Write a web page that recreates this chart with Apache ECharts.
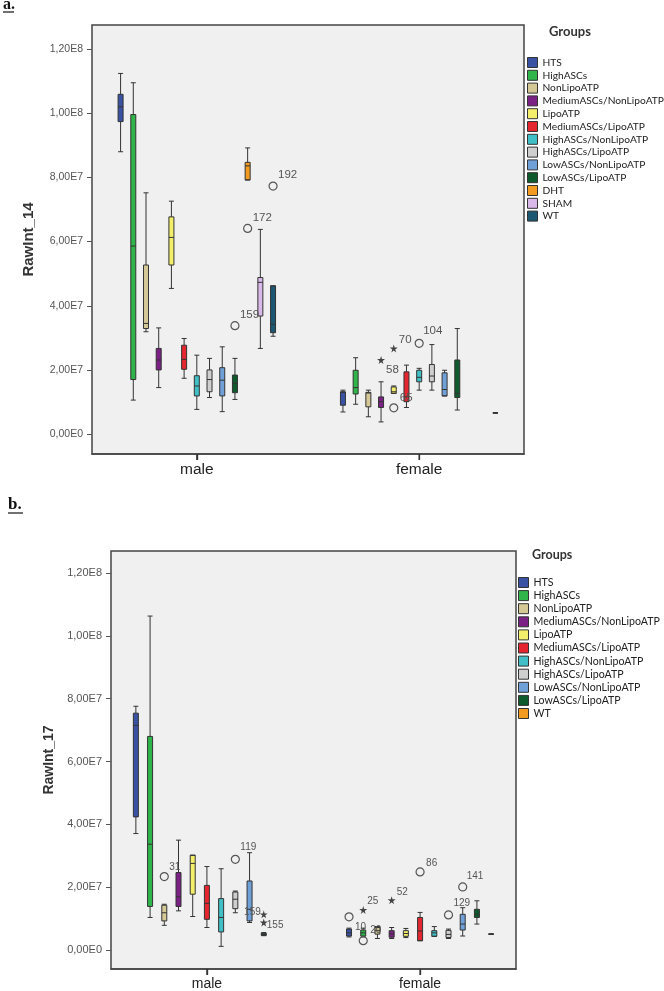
<!DOCTYPE html>
<html><head><meta charset="utf-8">
<script src="https://cdn.jsdelivr.net/npm/echarts@6/dist/echarts.min.js"></script>
<style>html,body{margin:0;padding:0;background:#fff}#c{width:664px;height:991px}</style>
</head><body><div id="c"></div>
<script>
// ===== DATA (values in units of 1E7) =====
const genders = ['male', 'female'];
const groupsA = ['HTS','HighASCs','NonLipoATP','MediumASCs/NonLipoATP','LipoATP','MediumASCs/LipoATP','HighASCs/NonLipoATP','HighASCs/LipoATP','LowASCs/NonLipoATP','LowASCs/LipoATP','DHT','SHAM','WT'];
const groupsB = ['HTS','HighASCs','NonLipoATP','MediumASCs/NonLipoATP','LipoATP','MediumASCs/LipoATP','HighASCs/NonLipoATP','HighASCs/LipoATP','LowASCs/NonLipoATP','LowASCs/LipoATP','WT'];
const yTickValues = [0, 2, 4, 6, 8, 10, 12];

// [min, Q1, median, Q3, max]
const boxesA_male = [
  [8.80, 9.74, 10.20, 10.59, 11.24],
  [1.06, 1.70, 5.86, 9.96, 10.95],
  [3.19, 3.29, 3.45, 5.27, 7.52],
  [1.45, 2.00, 2.31, 2.67, 3.31],
  [4.54, 5.27, 6.13, 6.77, 7.26],
  [1.74, 2.02, 2.33, 2.77, 2.98],
  [0.77, 1.19, 1.50, 1.82, 2.46],
  [1.14, 1.32, 1.70, 2.00, 2.36],
  [0.70, 1.19, 1.68, 2.07, 2.72],
  [1.08, 1.29, 1.58, 1.84, 2.36],
  [7.92, 7.92, 8.36, 8.47, 8.92],
  [2.67, 3.68, 4.73, 4.88, 6.38],
  [3.05, 3.16, 3.42, 4.62, 4.62]
];
const boxesA_female = [
  [0.69, 0.90, 1.30, 1.32, 1.37],
  [0.93, 1.25, 1.45, 1.99, 2.38],
  [0.54, 0.85, 1.28, 1.30, 1.37],
  [0.38, 0.83, 1.01, 1.16, 1.63],
  [1.27, 1.27, 1.32, 1.47, 1.50],
  [0.83, 1.01, 1.16, 1.94, 2.15],
  [1.37, 1.63, 1.77, 1.99, 2.05],
  [1.37, 1.63, 1.81, 2.17, 2.79],
  [1.19, 1.19, 1.39, 1.91, 1.99],
  [0.75, 1.14, 1.27, 2.31, 3.29],
  null,
  null,
  [0.66, 0.66, 0.66, 0.66, 0.66]
];
const boxesB_male = [
  [3.71, 4.24, 7.15, 7.54, 7.76],
  [1.04, 1.39, 3.37, 6.80, 10.63],
  [0.79, 0.93, 1.19, 1.43, 1.46],
  [1.25, 1.39, 1.70, 2.47, 3.50],
  [1.07, 1.78, 2.76, 3.02, 3.02],
  [0.72, 0.98, 1.49, 2.06, 2.66],
  [0.12, 0.58, 1.04, 1.64, 2.59],
  [1.19, 1.32, 1.62, 1.85, 1.88],
  [0.88, 0.93, 1.30, 2.20, 3.10],
  [0.46, 0.47, 0.50, 0.54, 0.56],
  null
];
const boxesB_female = [
  [0.42, 0.45, 0.55, 0.67, 0.70],
  [0.42, 0.45, 0.55, 0.64, 0.70],
  [0.37, 0.51, 0.62, 0.72, 0.75],
  [0.37, 0.41, 0.52, 0.62, 0.72],
  [0.40, 0.44, 0.53, 0.62, 0.69],
  [0.30, 0.30, 0.61, 1.04, 1.20],
  [0.44, 0.44, 0.55, 0.62, 0.75],
  [0.37, 0.40, 0.50, 0.63, 0.67],
  [0.45, 0.64, 0.83, 1.14, 1.35],
  [0.83, 1.04, 1.14, 1.30, 1.57],
  [0.51, 0.51, 0.51, 0.51, 0.51]
];
// [gender, group, value, case id, marker kind]
const outliersA = [
  ['male', 'LowASCs/LipoATP', 3.38, '159', 'circle'],
  ['male', 'DHT', 6.41, '172', 'circle'],
  ['male', 'WT', 7.73, '192', 'circle'],
  ['female', 'MediumASCs/NonLipoATP', 2.31, '58', 'star'],
  ['female', 'LipoATP', 2.67, '70', 'star'],
  ['female', 'LipoATP', 0.82, '65', 'circle'],
  ['female', 'HighASCs/NonLipoATP', 2.83, '104', 'circle']
];
const outliersB = [
  ['male', 'NonLipoATP', 2.34, '31', 'circle'],
  ['male', 'HighASCs/LipoATP', 2.89, '119', 'circle'],
  ['male', 'LowASCs/LipoATP', 1.14, '159', 'star'],
  ['male', 'LowASCs/LipoATP', 0.88, '155', 'star'],
  ['female', 'HTS', 1.06, '10', 'circle'],
  ['female', 'HighASCs', 1.28, '25', 'star'],
  ['female', 'HighASCs', 0.30, '20', 'circle'],
  ['female', 'MediumASCs/NonLipoATP', 1.59, '52', 'star'],
  ['female', 'MediumASCs/LipoATP', 2.49, '86', 'circle'],
  ['female', 'HighASCs/LipoATP', 1.12, '129', 'circle'],
  ['female', 'LowASCs/NonLipoATP', 2.01, '141', 'circle']
];

// ===== STYLE / LAYOUT =====
const colorsA = {'HTS':'#3a52a3','HighASCs':'#2fb54a','NonLipoATP':'#d3c896','MediumASCs/NonLipoATP':'#7b2085','LipoATP':'#f4ef6b','MediumASCs/LipoATP':'#e3262f','HighASCs/NonLipoATP':'#40c0c6','HighASCs/LipoATP':'#cfcfcf','LowASCs/NonLipoATP':'#70a0d8','LowASCs/LipoATP':'#0e5a2d','DHT':'#f39a20','SHAM':'#d9b8ea','WT':'#1d5873'};
const colorsB = Object.assign({}, colorsA, {'WT':'#f39a20'});
const labelPlaceA = {'159':[5,-11],'172':[5,-11],'192':[5,-11],'58':[5,10],'70':[5,-9],'65':[6,-10],'104':[4,-12]};
const labelPlaceB = {'31':[5,-9],'119':[5,-12],'159':[-3,-2,'right'],'155':[3,3],'10':[6,10],'20':[7,-10],'25':[4,-9],'52':[5,-8],'86':[6,-9],'129':[5,-12],'141':[4,-11]};
// grid = plot frame; the y extent is the value range covered by the frame
const panelA = {grid:{left:92, top:25, width:432, height:429}, yExtent:[-0.62, 12.75], slots:68, centers:[16,51], step:2, name:'RawInt_14', nameGap:56, nameSize:15, xLabelSize:15.5, outSize:11.5, yLabelSize:10.5};
const panelB = {grid:{left:111, top:551, width:405, height:419}, yExtent:[-0.60, 12.70], slots:57, centers:[13,43], step:2, name:'RawInt_17', nameGap:52, nameSize:14, xLabelSize:14, outSize:10, yLabelSize:11};
const TICK_LEN = 6;
const STAR = 'path://M50,0 L61,35 L98,35 L68,57 L79,91 L50,70 L21,91 L32,57 L2,35 L39,35 Z';

function slotOf(panel, gi, i, n) { return panel.centers[gi] + panel.step * (i - (n - 1) / 2); }
function sciLabel(v) { return (v * 1e7).toExponential(2).replace('.', ',').replace('e+', 'E'); }
function isCenter(P, i) { return i === P.centers[0] || i === P.centers[1]; }

function boxData(panel, groups, boxesByGender, colors) {
  const data = Array.from({length: panel.slots}, () => ['-','-','-','-','-']);
  genders.forEach((g, gi) => {
    groups.forEach((name, i) => {
      const b = boxesByGender[gi][i];
      if (!b) return;
      data[slotOf(panel, gi, i, groups.length)] = {value: b.slice(), itemStyle: {color: colors[name]}};
    });
  });
  return data;
}
function outlierData(panel, groups, outs, places) {
  return outs.map(o => {
    const gi = genders.indexOf(o[0]);
    const i = groups.indexOf(o[1]);
    const p = places[o[3]] || [5,-10];
    const star = o[4] === 'star';
    return {
      name: o[3],
      value: [slotOf(panel, gi, i, groups.length), o[2]],
      symbol: star ? STAR : 'circle',
      symbolSize: 8,
      itemStyle: star ? {color:'#444', borderWidth:0, opacity:1} : {color:'rgba(0,0,0,0)', borderColor:'#555', borderWidth:1.2, opacity:1},
      label: {offset: [p[0], p[1]], align: p[2] || 'left'}
    };
  });
}

const chart = echarts.init(document.getElementById('c'), null, {renderer:'canvas'});
const panels = [panelA, panelB];
const grids = [], xAxes = [], yAxes = [];
panels.forEach((P, k) => {
  grids.push(Object.assign({containLabel:false, show:true, backgroundColor:'#f0f0f0', borderColor:'#444', borderWidth:1.5}, P.grid));
  xAxes.push({
    type:'category', gridIndex:k, boundaryGap:true, position:'bottom',
    data: Array.from({length:P.slots}, (_, i) => 's' + i),
    axisLine:{show:true, onZero:false, lineStyle:{color:'#444', width:1.5}},
    axisTick:{show:true, alignWithLabel:true, length:TICK_LEN, lineStyle:{color:'#333', width:1.3},
      interval:(i) => isCenter(P, i)},
    axisLabel:{interval:(i) => isCenter(P, i),
      formatter:(v, i) => i === P.centers[0] ? genders[0] : (i === P.centers[1] ? genders[1] : ''),
      margin:8, fontSize:P.xLabelSize, color:'#222', fontFamily:'Liberation Sans'},
    splitLine:{show:false}
  });
  yAxes.push({
    type:'value', gridIndex:k, min:P.yExtent[0], max:P.yExtent[1],
    axisLine:{show:false, onZero:false},
    axisTick:{show:true, length:5, lineStyle:{color:'#555'}, customValues:yTickValues},
    axisLabel:{formatter:sciLabel, customValues:yTickValues, fontSize:P.yLabelSize, color:'#555', margin:9, fontFamily:'Liberation Sans'},
    splitLine:{show:false},
    name:P.name, nameLocation:'middle', nameGap:P.nameGap,
    nameTextStyle:{fontWeight:'bold', fontSize:P.nameSize, color:'#333', fontFamily:'Liberation Sans'}
  });
});

const series = [
  {type:'boxplot', xAxisIndex:0, yAxisIndex:0, boxWidth:[5,5], silent:true,
   itemStyle:{borderColor:'#333', borderWidth:1},
   data: boxData(panelA, groupsA, [boxesA_male, boxesA_female], colorsA)},
  {type:'boxplot', xAxisIndex:1, yAxisIndex:1, boxWidth:[5,5], silent:true,
   itemStyle:{borderColor:'#333', borderWidth:1},
   data: boxData(panelB, groupsB, [boxesB_male, boxesB_female], colorsB)},
  {type:'scatter', xAxisIndex:0, yAxisIndex:0, silent:true, z:5, itemStyle:{opacity:1},
   label:{show:true, position:'inside', formatter:'{b}', verticalAlign:'middle', color:'#555', fontSize:panelA.outSize, fontFamily:'Liberation Sans'},
   data: outlierData(panelA, groupsA, outliersA, labelPlaceA)},
  {type:'scatter', xAxisIndex:1, yAxisIndex:1, silent:true, z:5, itemStyle:{opacity:1},
   label:{show:true, position:'inside', formatter:'{b}', verticalAlign:'middle', color:'#555', fontSize:panelB.outSize, fontFamily:'Liberation Sans'},
   data: outlierData(panelB, groupsB, outliersB, labelPlaceB)}
];
// legend carriers (no data)
groupsA.forEach(n => series.push({type:'scatter', name:n, xAxisIndex:0, yAxisIndex:0, data:[], itemStyle:{color:colorsA[n], opacity:1}}));

const legendBase = {orient:'vertical', itemWidth:10, itemHeight:10, padding:0, icon:'rect', selectedMode:false,
  itemStyle:{borderColor:'#333', borderWidth:1, opacity:1}};

const baseGraphics = [
  {id:'ta', type:'text', silent:true, style:{x:3, y:-3, text:'a.', font:'bold 16px "Liberation Serif"', fill:'#111'}},
  {id:'ua', type:'line', silent:true, shape:{x1:3, y1:12, x2:14, y2:12}, style:{stroke:'#111', lineWidth:1.2}},
  {id:'tb', type:'text', silent:true, style:{x:8, y:496, text:'b.', font:'bold 17px "Liberation Serif"', fill:'#111'}},
  {id:'ub', type:'line', silent:true, shape:{x1:8, y1:513, x2:23, y2:513}, style:{stroke:'#111', lineWidth:1.2}}
];

chart.setOption({
  animation:false,
  backgroundColor:'#ffffff',
  title:[
    {text:'Groups', left:549, top:25, padding:0, textStyle:{fontFamily:'Lato', fontWeight:'bold', fontSize:13, color:'#333'}},
    {text:'Groups', left:532, top:548, padding:0, textStyle:{fontFamily:'Lato', fontWeight:'bold', fontSize:12.5, color:'#333'}}
  ],
  legend:[
    Object.assign({}, legendBase, {left:527, top:57, itemGap:1.8,
      textStyle:{fontFamily:'Lato', fontSize:10.2, color:'#222'},
      data: groupsA.map(n => ({name:n, itemStyle:{color:colorsA[n], opacity:1}}))}),
    Object.assign({}, legendBase, {left:518, top:577, itemGap:2.1,
      textStyle:{fontFamily:'Lato', fontSize:10.6, color:'#222'},
      data: groupsB.map(n => ({name:n, itemStyle:{color:colorsB[n], opacity:1}}))})
  ],
  graphic: baseGraphics,
  grid:grids, xAxis:xAxes, yAxis:yAxes, series:series
});

// Category ticks below the frame at male / female, positioned through the axes' own scales
const tickGraphics = [];
panels.forEach((P, k) => {
  P.centers.forEach((c, j) => {
    const pt = chart.convertToPixel({xAxisIndex:k, yAxisIndex:k}, [c, P.yExtent[0]]);
    if (!pt) return;
    tickGraphics.push({id:'tick' + k + '_' + j, type:'line', silent:true, z:10,
      shape:{x1:pt[0], y1:pt[1], x2:pt[0], y2:pt[1] + TICK_LEN},
      style:{stroke:'#333', lineWidth:1.3}});
  });
});
chart.setOption({graphic: baseGraphics.concat(tickGraphics)});
</script></body></html>
